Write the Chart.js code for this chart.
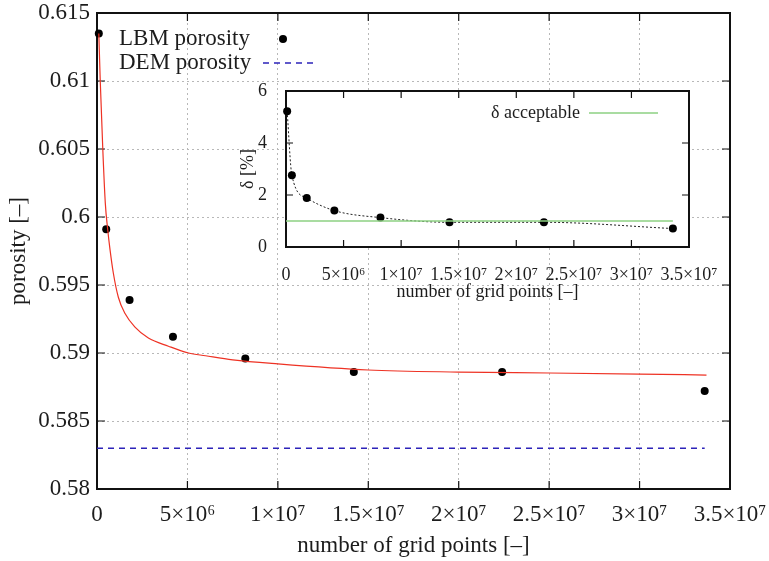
<!DOCTYPE html>
<html lang="en">
<head>
<meta charset="UTF-8" />
<title>Porosity vs number of grid points</title>
<script src="https://cdn.jsdelivr.net/npm/chart.js"></script>
<style>
body{margin:0;background:#fff;}
#wrap{position:relative;width:769px;height:561px;}
#main{position:absolute;left:0;top:0;}
#inset{position:absolute;left:230px;top:80px;}
</style>
</head>
<body>
<div id="wrap">
  <canvas id="main" width="769" height="561"></canvas>
  <canvas id="inset" width="500" height="225"></canvas>
</div>
<script>
// values
const gridPoints   = [1.0e5, 5.1e5, 1.8e6, 4.2e6, 8.2e6, 1.42e7, 2.24e7, 3.36e7];
const lbmPorosity  = [0.6135, 0.5991, 0.5939, 0.5912, 0.5896, 0.5886, 0.5886, 0.5872];
const deltaPercent = [5.22, 2.76, 1.88, 1.40, 1.13, 0.95, 0.95, 0.71];

// red fit curve, traced point by point
const fitX        = [1.0e5, 1.8e5, 3.2e5, 4.6e5, 5.9e5, 7.2e5, 9.0e5, 1.18e6, 1.55e6, 2.1e6, 2.84e6, 3.95e6, 5.06e6, 6.0e6, 7.5e6, 1.0e7, 1.5e7, 2.0e7, 2.5e7, 3.0e7, 3.37e7];
const fitPorosity = [0.6135, 0.6100, 0.6050, 0.6010, 0.5991, 0.5976, 0.5959, 0.5941, 0.5929, 0.5919, 0.5911, 0.5905, 0.5900, 0.5898, 0.5895, 0.5892, 0.58875, 0.5886, 0.58853, 0.58845, 0.58838];

const demX = [0, 3.36e7];
const demPorosity = [0.583, 0.583];
const acceptX = [0, 3.36e7];
const acceptDelta = [1, 1];

const xTickLabels = ['0', '5×10⁶', '1×10⁷', '1.5×10⁷', '2×10⁷', '2.5×10⁷', '3×10⁷', '3.5×10⁷'];
const yTickLabels = ['0.58', '0.585', '0.59', '0.595', '0.6', '0.605', '0.61', '0.615'];
const insetYTickLabels = ['0', '2', '4', '6'];

const FONT = '"Liberation Serif", "DejaVu Serif", serif';
const INK = '#1c1c1c';
Chart.defaults.font.family = FONT;
Chart.defaults.color = INK;

const pts = (xs, ys) => xs.map((x, i) => ({x, y: ys[i]}));

// black frame + inward ticks on all four sides
function framePlugin(tickLen, whiteBg) {
  return {
    id: 'frame',
    beforeDraw(c) {
      if (!whiteBg) return;
      const a = c.chartArea, ctx = c.ctx;
      ctx.save();
      ctx.fillStyle = '#fff';
      ctx.fillRect(a.left, a.top, a.right - a.left, a.bottom - a.top);
      ctx.restore();
    },
    beforeDatasetsDraw(c) {
      const {ctx, chartArea: a, scales: {x, y}} = c;
      ctx.save();
      ctx.strokeStyle = '#111';
      ctx.lineWidth = 1.2;
      ctx.beginPath();
      x.ticks.forEach(t => {
        const px = x.getPixelForValue(t.value);
        ctx.moveTo(px, a.bottom); ctx.lineTo(px, a.bottom - tickLen);
        ctx.moveTo(px, a.top); ctx.lineTo(px, a.top + tickLen);
      });
      y.ticks.forEach(t => {
        const py = y.getPixelForValue(t.value);
        ctx.moveTo(a.left, py); ctx.lineTo(a.left + tickLen, py);
        ctx.moveTo(a.right, py); ctx.lineTo(a.right - tickLen, py);
      });
      ctx.stroke();
      ctx.lineWidth = 2;
      ctx.strokeRect(a.left, a.top, a.right - a.left, a.bottom - a.top);
      ctx.restore();
    }
  };
}

function fixBox(w, h) {
  return s => {
    if (w != null) s.width = w;
    if (h != null) s.height = h;
    s.paddingLeft = 0; s.paddingRight = 0; s.paddingTop = 0; s.paddingBottom = 0;
  };
}

// ---- main chart ----
const mainLegend = {
  id: 'mainLegend',
  afterDraw(c) {
    const ctx = c.ctx;
    ctx.save();
    ctx.font = '23px ' + FONT;
    ctx.fillStyle = INK;
    ctx.textAlign = 'left';
    ctx.textBaseline = 'middle';
    ctx.fillText('LBM porosity', 119, 39);
    ctx.fillText('DEM porosity', 119, 63);
    ctx.fillStyle = '#000';
    ctx.beginPath(); ctx.arc(283, 39, 4, 0, Math.PI * 2); ctx.fill();
    ctx.strokeStyle = 'rgb(45,35,185)';
    ctx.lineWidth = 1.6;
    ctx.setLineDash([6, 5]);
    ctx.beginPath(); ctx.moveTo(263, 63); ctx.lineTo(313, 63); ctx.stroke();
    ctx.restore();
  }
};

new Chart(document.getElementById('main'), {
  type: 'scatter',
  data: {
    datasets: [
      {label: 'DEM porosity', data: pts(demX, demPorosity), showLine: true, pointRadius: 0,
       borderColor: 'rgb(45,35,185)', borderWidth: 1.6, borderDash: [6, 5], clip: false},
      {label: 'fit', data: pts(fitX, fitPorosity), showLine: true, pointRadius: 0,
       borderColor: 'rgb(238,50,36)', borderWidth: 1.2, cubicInterpolationMode: 'monotone', clip: false},
      {label: 'LBM porosity', data: pts(gridPoints, lbmPorosity), pointRadius: 4,
       backgroundColor: '#000', borderColor: '#000', pointBorderWidth: 0, clip: false}
    ]
  },
  options: {
    responsive: false, animation: false, events: [],
    layout: {padding: {left: 0, right: 39, top: 13, bottom: 0}},
    plugins: {legend: {display: false}, tooltip: {enabled: false}},
    scales: {
      x: {
        type: 'linear', min: 0, max: 3.5e7,
        afterFit: fixBox(null, 72),
        grid: {color: '#b8b8b8', lineWidth: 1, drawTicks: false},
        border: {display: false, dash: [2, 3]},
        ticks: {stepSize: 5e6, padding: 12, autoSkip: false, maxRotation: 0,
                font: {size: 23}, callback: (v, i) => xTickLabels[i]},
        title: {display: true, text: 'number of grid points [–]', font: {size: 23}, padding: {top: 0, bottom: 1}}
      },
      y: {
        type: 'linear', min: 0.58, max: 0.615,
        afterFit: fixBox(97, null),
        grid: {color: '#b8b8b8', lineWidth: 1, drawTicks: false},
        border: {display: false, dash: [2, 3]},
        ticks: {stepSize: 0.005, padding: 7, autoSkip: false,
                font: {size: 23}, callback: (v, i) => yTickLabels[i]},
        title: {display: true, text: 'porosity [–]', font: {size: 23}, padding: {top: 5, bottom: 0}}
      }
    }
  },
  plugins: [framePlugin(8, false), mainLegend]
});

// ---- inset ----
const insetLegend = {
  id: 'insetLegend',
  afterDraw(c) {
    const ctx = c.ctx;
    ctx.save();
    ctx.font = '18px ' + FONT;
    ctx.fillStyle = INK;
    ctx.textAlign = 'right';
    ctx.textBaseline = 'middle';
    ctx.fillText('δ acceptable', 350, 33);
    ctx.strokeStyle = 'rgb(140,208,130)';
    ctx.lineWidth = 1.5;
    ctx.beginPath(); ctx.moveTo(359, 33); ctx.lineTo(428, 33); ctx.stroke();
    ctx.restore();
  }
};

new Chart(document.getElementById('inset'), {
  type: 'scatter',
  data: {
    datasets: [
      {label: 'δ acceptable', data: pts(acceptX, acceptDelta), showLine: true, pointRadius: 0,
       borderColor: 'rgb(140,208,130)', borderWidth: 1.5, clip: false},
      {label: 'δ', data: pts(gridPoints, deltaPercent), showLine: true, pointRadius: 4,
       backgroundColor: '#000', borderColor: '#222', pointBorderWidth: 0, borderWidth: 1,
       borderDash: [2, 2], cubicInterpolationMode: 'monotone', clip: false}
    ]
  },
  options: {
    responsive: false, animation: false, events: [],
    layout: {padding: {left: 0, right: 41, top: 11, bottom: 0}},
    plugins: {legend: {display: false}, tooltip: {enabled: false}},
    scales: {
      x: {
        type: 'linear', min: 0, max: 3.5e7,
        afterFit: fixBox(null, 58),
        grid: {display: false},
        border: {display: false},
        ticks: {stepSize: 5e6, padding: 9, autoSkip: false, maxRotation: 0,
                font: {size: 18}, callback: (v, i) => xTickLabels[i]},
        title: {display: true, text: 'number of grid points [–]', font: {size: 18}, padding: {top: 0, bottom: 2}}
      },
      y: {
        type: 'linear', min: 0, max: 6,
        afterFit: fixBox(56, null),
        grid: {display: false},
        border: {display: false},
        ticks: {stepSize: 2, padding: 11, autoSkip: false,
                font: {size: 18}, callback: (v, i) => insetYTickLabels[i]},
        title: {display: true, text: 'δ [%]', font: {size: 18}, padding: {top: 7, bottom: 0}}
      }
    }
  },
  plugins: [framePlugin(7, true), insetLegend]
});
</script>
</body>
</html>
